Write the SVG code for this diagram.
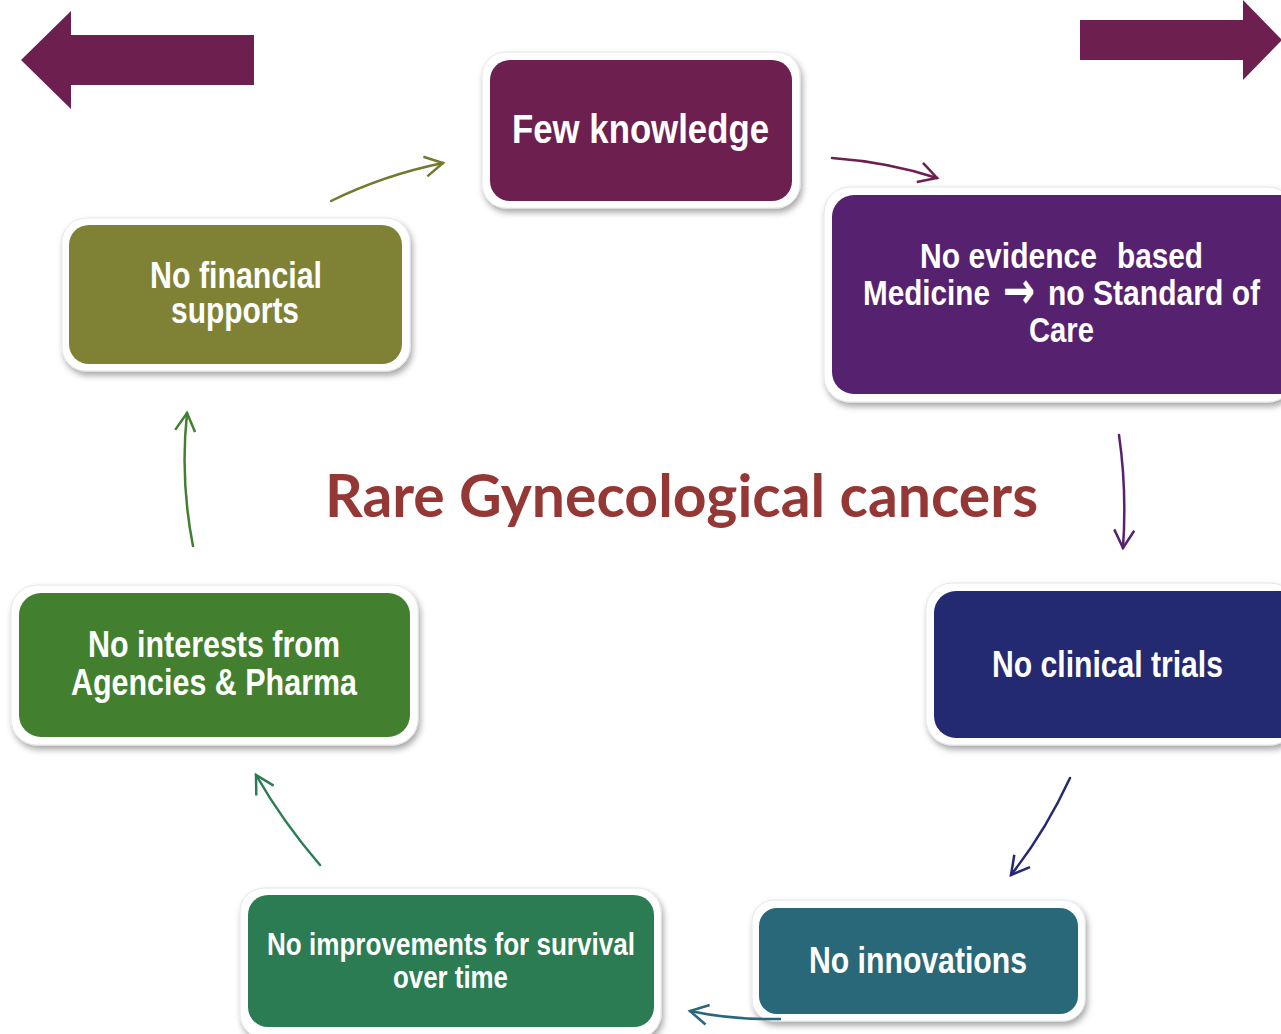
<svg xmlns="http://www.w3.org/2000/svg" width="1281" height="1034" viewBox="0 0 1281 1034">
  <defs>
    <filter id="shadow" x="-10%" y="-10%" width="125%" height="130%">
      <feDropShadow dx="2" dy="4" stdDeviation="3" flood-color="#000" flood-opacity="0.35"/>
    </filter>
    <marker id="ah-olive" markerUnits="userSpaceOnUse" viewBox="-25 -15 30 30" refX="0" refY="0" markerWidth="30" markerHeight="30" orient="auto" overflow="visible">
      <path d="M-18,-10 L0,0 L-18,10" fill="none" stroke="#74792E" stroke-width="2.5"/>
    </marker>
    <marker id="ah-plum" markerUnits="userSpaceOnUse" viewBox="-25 -15 30 30" refX="0" refY="0" markerWidth="30" markerHeight="30" orient="auto" overflow="visible">
      <path d="M-18,-10 L0,0 L-18,10" fill="none" stroke="#6D1F4F" stroke-width="2.5"/>
    </marker>
    <marker id="ah-violet" markerUnits="userSpaceOnUse" viewBox="-25 -15 30 30" refX="0" refY="0" markerWidth="30" markerHeight="30" orient="auto" overflow="visible">
      <path d="M-18,-10 L0,0 L-18,10" fill="none" stroke="#56216F" stroke-width="2.5"/>
    </marker>
    <marker id="ah-navy" markerUnits="userSpaceOnUse" viewBox="-25 -15 30 30" refX="0" refY="0" markerWidth="30" markerHeight="30" orient="auto" overflow="visible">
      <path d="M-18,-10 L0,0 L-18,10" fill="none" stroke="#232A72" stroke-width="2.5"/>
    </marker>
    <marker id="ah-teal" markerUnits="userSpaceOnUse" viewBox="-25 -15 30 30" refX="0" refY="0" markerWidth="30" markerHeight="30" orient="auto" overflow="visible">
      <path d="M-18,-10 L0,0 L-18,10" fill="none" stroke="#286878" stroke-width="2.5"/>
    </marker>
    <marker id="ah-sea" markerUnits="userSpaceOnUse" viewBox="-25 -15 30 30" refX="0" refY="0" markerWidth="30" markerHeight="30" orient="auto" overflow="visible">
      <path d="M-18,-10 L0,0 L-18,10" fill="none" stroke="#2B7B53" stroke-width="2.5"/>
    </marker>
    <marker id="ah-green" markerUnits="userSpaceOnUse" viewBox="-25 -15 30 30" refX="0" refY="0" markerWidth="30" markerHeight="30" orient="auto" overflow="visible">
      <path d="M-18,-10 L0,0 L-18,10" fill="none" stroke="#427F2E" stroke-width="2.5"/>
    </marker>
  </defs>
  <style>
    .frame { fill: #ffffff; stroke: #e6e6e6; stroke-width: 1; filter: url(#shadow); }
    .label { font-family: "Liberation Sans Narrow", "Liberation Sans", Arial, sans-serif; font-weight: bold; fill: #ffffff; }
    .sym { font-family: "DejaVu Sans", sans-serif; font-weight: bold; fill: #ffffff; }
    .title { font-family: Lato, "Open Sans", "Liberation Sans", sans-serif; font-weight: bold; fill: #953735; }
    .conn { fill: none; stroke-width: 2.5; stroke-linecap: round; }
    .block { fill: #6D1F4F; }
  </style>

  <rect width="1281" height="1034" fill="#ffffff"/>

  <!-- block arrows at the top corners -->
  <polygon class="block" points="21,60 71,11 71,35 254,35 254,85 71,85 71,109"/>
  <polygon class="block" points="1080,20 1243,20 1243,0 1282,40 1243,80 1243,60 1080,60"/>

  <!-- centre title -->
  <text class="title" x="325" y="517" font-size="60" textLength="713" lengthAdjust="spacingAndGlyphs">Rare Gynecological cancers</text>

  <g id="node-few-knowledge">
    <rect class="frame" x="482" y="52" width="318" height="156" rx="24"/>
    <rect x="490" y="60" width="302" height="141" rx="20" fill="#6D1F4F"/>
    <text class="label" x="512" y="143" font-size="40" textLength="257" lengthAdjust="spacingAndGlyphs">Few knowledge</text>
  </g>

  <g id="node-evidence">
    <rect class="frame" x="824" y="187" width="470" height="215" rx="26"/>
    <rect x="832" y="195" width="470" height="199" rx="22" fill="#56216F"/>
    <text class="label" x="920" y="268" font-size="35" textLength="177" lengthAdjust="spacingAndGlyphs">No evidence</text>
    <text class="label" x="1117" y="268" font-size="35" textLength="86" lengthAdjust="spacingAndGlyphs">based</text>
    <text class="label" x="863" y="305" font-size="35" textLength="127" lengthAdjust="spacingAndGlyphs">Medicine</text>
    <text class="sym" x="1003" y="308" font-size="52" textLength="32" lengthAdjust="spacingAndGlyphs">→</text>
    <text class="label" x="1048" y="305" font-size="35" textLength="212" lengthAdjust="spacingAndGlyphs">no Standard of</text>
    <text class="label" x="1029" y="342" font-size="35" textLength="65" lengthAdjust="spacingAndGlyphs">Care</text>
  </g>

  <g id="node-financial">
    <rect class="frame" x="62" y="218" width="348" height="153" rx="24"/>
    <rect x="69" y="225" width="333" height="139" rx="20" fill="#7F8234"/>
    <text class="label" x="150" y="288" font-size="36" textLength="172" lengthAdjust="spacingAndGlyphs">No financial</text>
    <text class="label" x="171" y="323" font-size="36" textLength="128" lengthAdjust="spacingAndGlyphs">supports</text>
  </g>

  <g id="node-clinical-trials">
    <rect class="frame" x="926" y="583" width="370" height="162" rx="26"/>
    <rect x="934" y="591" width="370" height="147" rx="22" fill="#232A72"/>
    <text class="label" x="992" y="677" font-size="36" textLength="231" lengthAdjust="spacingAndGlyphs">No clinical trials</text>
  </g>

  <g id="node-innovations">
    <rect class="frame" x="752" y="900" width="333" height="121" rx="22"/>
    <rect x="759" y="908" width="319" height="106" rx="18" fill="#286878"/>
    <text class="label" x="809" y="973" font-size="36" textLength="218" lengthAdjust="spacingAndGlyphs">No innovations</text>
  </g>

  <g id="node-improvements">
    <rect class="frame" x="240" y="888" width="421" height="150" rx="24"/>
    <rect x="248" y="895" width="406" height="132" rx="20" fill="#2B7B53"/>
    <text class="label" x="267" y="955" font-size="32" textLength="368" lengthAdjust="spacingAndGlyphs">No improvements for survival</text>
    <text class="label" x="393" y="988" font-size="32" textLength="115" lengthAdjust="spacingAndGlyphs">over time</text>
  </g>

  <g id="node-interests">
    <rect class="frame" x="11" y="585" width="407" height="160" rx="26"/>
    <rect x="19" y="593" width="391" height="144" rx="22" fill="#427F2E"/>
    <text class="label" x="88" y="657" font-size="36" textLength="252" lengthAdjust="spacingAndGlyphs">No interests from</text>
    <text class="label" x="71" y="695" font-size="36" textLength="286" lengthAdjust="spacingAndGlyphs">Agencies &amp; Pharma</text>
  </g>

  <g id="connectors">
    <path class="conn" d="M331,201 Q384,175 443,163" stroke="#74792E" marker-end="url(#ah-olive)"/>
    <path class="conn" d="M832,158 Q888,162 937,178" stroke="#6D1F4F" marker-end="url(#ah-plum)"/>
    <path class="conn" d="M1119,435 Q1127,490 1123,548" stroke="#56216F" marker-end="url(#ah-violet)"/>
    <path class="conn" d="M1070,778 Q1045,832 1011,875" stroke="#232A72" marker-end="url(#ah-navy)"/>
    <path class="conn" d="M780,1019 Q732,1020 690,1011" stroke="#286878" marker-end="url(#ah-teal)"/>
    <path class="conn" d="M320,865 Q283,822 256,775" stroke="#2B7B53" marker-end="url(#ah-sea)"/>
    <path class="conn" d="M193,546 Q180,480 187,413" stroke="#427F2E" marker-end="url(#ah-green)"/>
  </g>
</svg>
